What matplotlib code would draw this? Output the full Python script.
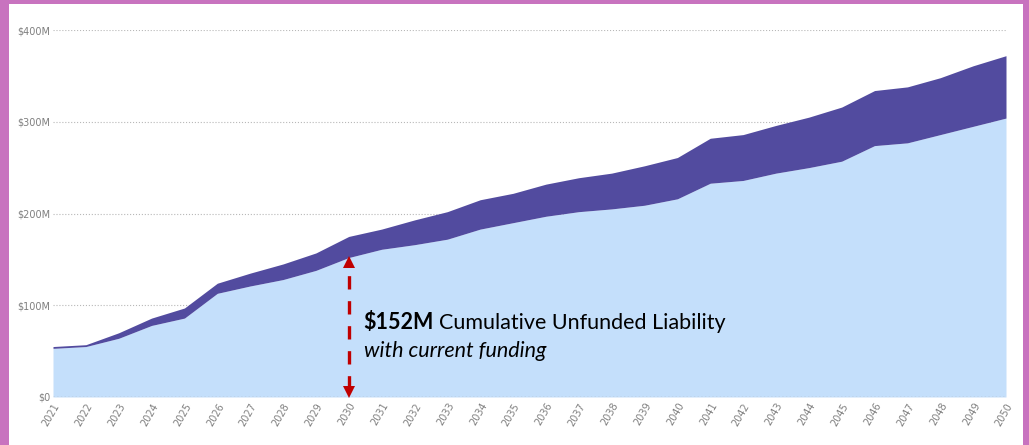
import matplotlib.pyplot as plt
from matplotlib.patches import Rectangle
from matplotlib.transforms import offset_copy
import numpy as np

# data, $M
years = list(range(2021, 2051))
funded = [53, 55, 64, 78, 86, 113, 121, 128, 138, 152,
          161, 166, 172, 183, 190, 197, 202, 205, 209, 216,
          233, 236, 244, 250, 257, 274, 277, 286, 295, 304]
total = [55, 57, 70, 86, 97, 124, 135, 145, 157, 175,
         183, 193, 202, 215, 222, 232, 239, 244, 252, 261,
         282, 286, 296, 305, 316, 334, 338, 348, 361, 372]
y_ticks = [0, 100, 200, 300, 400]
y_labels = ['$0', '$100M', '$200M', '$300M', '$400M']
arrow_year = 2030
arrow_value = 152

fig = plt.figure(figsize=(10.29, 4.45), dpi=100)
fig.patch.set_facecolor('#C873BF')
# white card inside the magenta frame
fig.patches.append(Rectangle((9 / 1029, 0), (1023 - 9) / 1029, (445 - 4) / 445,
                             transform=fig.transFigure, facecolor='white',
                             edgecolor='none', zorder=-5))

ax = fig.add_axes([53 / 1029, (445 - 397) / 445, (1006 - 53) / 1029, (397 - 30) / 445])
ax.set_zorder(2)
ax.set_facecolor('none')

ax.fill_between(years, 0, funded, color='#C4DFFB', linewidth=0, zorder=2)
ax.fill_between(years, funded, total, color='#524B9F', linewidth=0, zorder=2)

ax.set_xlim(2021, 2050)
ax.set_ylim(0, 400)
ax.set_yticks(y_ticks)
ax.set_yticklabels(y_labels)
ax.set_xticks(years)
ax.set_xticklabels([str(y) for y in years], rotation=60, ha='right', va='top',
                   rotation_mode='anchor')
ax.tick_params(axis='both', length=0, labelsize=7, labelcolor='#7F7F7F')
ax.tick_params(axis='y', pad=2)
ax.tick_params(axis='x', pad=3)
ax.grid(axis='y', color='#B8B8B8', linestyle=':', linewidth=0.8, zorder=1)
ax.axhline(0, color='#A8A8A8', linestyle=':', linewidth=1.0, zorder=3)
for s in ax.spines.values():
    s.set_visible(False)

# double headed dashed arrow showing the unfunded liability
ax.plot([arrow_year, arrow_year], [9, arrow_value - 9], color='#C00000', lw=2.4,
        linestyle=(0, (4, 3.5)), solid_capstyle='butt', zorder=4)
ax.plot(arrow_year, arrow_value - 5, marker='^', markersize=9, color='#C00000',
        markeredgewidth=0, zorder=4)
ax.plot(arrow_year, 5, marker='v', markersize=9, color='#C00000',
        markeredgewidth=0, zorder=4)

fs = 15.5
t1 = ax.text(2030.45, 74, '$152M', fontsize=fs, fontweight='bold', family='Lato',
             color='black', va='baseline', zorder=5)
fig.canvas.draw()
w = t1.get_window_extent().width
ax.text(2030.45, 74, 'Cumulative Unfunded Liability', fontsize=fs, family='Lato',
        color='black', va='baseline', zorder=5,
        transform=offset_copy(ax.transData, fig=fig, x=w + 5, units='dots'))
ax.text(2030.45, 44, 'with current funding', fontsize=fs, style='italic',
        family='Lato', color='black', va='baseline', zorder=5)

fig.savefig('out.png', dpi=100, facecolor=fig.get_facecolor())
